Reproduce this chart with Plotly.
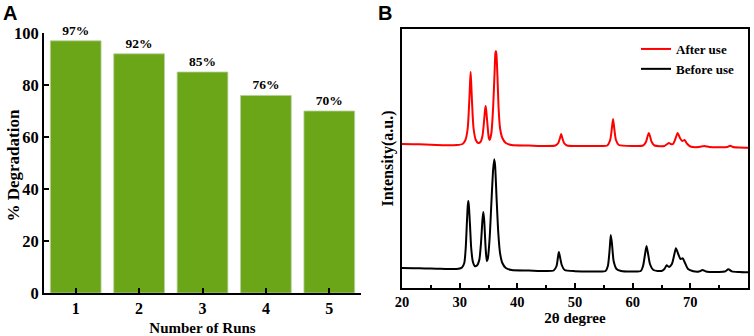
import plotly.graph_objects as go

# ---------------- Panel A data ----------------
runs = [1, 2, 3, 4, 5]
degradation = [97, 92, 85, 76, 70]

# ---------------- Panel B data ----------------
after_x = [20.0, 22, 24, 26, 28, 29.5, 30.5, 31.0, 31.4, 31.65, 31.8, 31.9, 32.0, 32.15, 32.4, 32.8,
           33.2, 33.6, 33.95, 34.2, 34.4, 34.5, 34.6, 34.8, 35.05, 35.2, 35.5, 35.8, 36.05, 36.2, 36.3,
           36.4, 36.55, 36.75, 37.0, 37.4, 38.0, 39, 42, 45, 46.6, 47.1, 47.4, 47.6, 47.8, 48.1, 48.6,
           51, 54, 55.6, 56.1, 56.4, 56.6, 56.8, 57.1, 57.6, 60, 61.8, 62.3, 62.6, 62.8, 63.0, 63.3,
           63.8, 65.5, 66.0, 66.3, 66.6, 67.0, 67.4, 67.8, 68.2, 68.6, 69.0, 69.4, 70.0, 71.5, 72.4,
           73.3, 75, 76.4, 76.9, 77.4, 78.5, 80]
after_y = [144, 143.8, 143.5, 143, 142.8, 143, 144, 148, 160, 185, 205, 216, 205, 185, 160, 148,
           145, 146, 152, 165, 178, 182, 178, 165, 150, 148, 155, 180, 215, 235, 237,
           232, 212, 180, 160, 150, 145, 143, 142.5, 142, 142.5, 145, 150, 154, 150, 145, 142.5,
           142, 142, 142.5, 148, 160, 169, 160, 148, 143, 142, 142.5, 146, 152, 155, 152, 146,
           142.5, 142, 144, 145, 144, 144, 149, 155, 150, 147, 148, 144.5, 141.5, 141, 142,
           141, 140.8, 141, 142.3, 141, 140.5, 140.3]

before_x = [20, 22, 24, 26, 28, 29.8, 30.4, 30.8, 31.05, 31.25, 31.4, 31.5, 31.6, 31.8, 32.0, 32.3,
            32.6, 33.0, 33.4, 33.7, 33.95, 34.1, 34.25, 34.5, 34.7, 34.9, 35.2, 35.5, 35.8, 36.0,
            36.15, 36.4, 36.7, 37.0, 37.4, 38.0, 39, 42, 45, 46.3, 46.8, 47.05, 47.2, 47.4, 47.7,
            48.2, 50, 54, 55.3, 55.7, 56.0, 56.2, 56.4, 56.7, 57.2, 58, 60, 61.4, 61.8, 62.15, 62.4,
            62.65, 63.0, 63.6, 65.0, 65.5, 65.9, 66.3, 66.8, 67.2, 67.5, 67.9, 68.3, 68.7, 69.0,
            69.6, 70.5, 71.5, 72.1, 72.7, 75, 76.0, 76.6, 77.2, 78.5, 80]
before_y = [20, 19.8, 19.5, 19.3, 19, 19.2, 20.5, 25, 40, 65, 82, 87, 82, 62, 40, 26,
            22, 22.5, 28, 45, 68, 76, 68, 40, 27, 30, 50, 85, 118, 128.7,
            122, 90, 55, 35, 25, 20, 18, 17.5, 17, 17.5, 22, 31, 36, 31, 23,
            18, 16.8, 16.5, 17, 22, 38, 53, 45, 27, 19, 17, 16.5, 17, 22, 34, 42,
            35, 24, 18, 17, 19, 22.7, 21, 24, 33, 39.7, 34, 29, 29.7, 26,
            19, 16.8, 16.5, 18, 16.5, 16, 16.5, 18.7, 16.6, 16, 15.7]

xrd_ticks = [20, 30, 40, 50, 60, 70, 80]

W, H = 754, 336
SERIF = "Liberation Serif"
SANS = "Liberation Sans"

def px(x):
    return x / W

def py(y):
    return 1 - y / H

fig = go.Figure()

fig.add_trace(go.Bar(
    x=runs, y=degradation, width=0.8,
    marker=dict(color="#6BA619", line=dict(color="#b9cfa0", width=0.8)),
    texttemplate="%{y}%", textposition="outside", cliponaxis=False,
    textfont=dict(family=SERIF, size=13.5, color="black", weight="bold"),
    showlegend=False, xaxis="x", yaxis="y",
))

fig.add_trace(go.Scatter(
    x=after_x, y=after_y, mode="lines", name="After use",
    line=dict(color="#ff0000", width=2, shape="spline", smoothing=0.6),
    xaxis="x2", yaxis="y2",
))
fig.add_trace(go.Scatter(
    x=before_x, y=before_y, mode="lines", name="Before use",
    line=dict(color="#000000", width=2, shape="spline", smoothing=0.6),
    xaxis="x2", yaxis="y2",
))

def f(size):
    return dict(family=SERIF, size=size, color="black", weight="bold")

fig.update_layout(
    width=W, height=H,
    margin=dict(l=0, r=0, t=0, b=0, autoexpand=False),
    paper_bgcolor="white", plot_bgcolor="white",
    font=dict(family=SERIF, color="black"),
    xaxis=dict(
        domain=[px(44), px(361)], range=[0.5, 5.5], tickvals=runs, automargin=False,
        showline=True, linecolor="black", linewidth=2, showgrid=False, zeroline=False,
        ticks="inside", ticklen=5, tickwidth=2, tickcolor="black",
        tickfont=f(16),
        title=dict(text="Number of Runs", font=f(15), standoff=10),
    ),
    yaxis=dict(
        domain=[py(293), py(33)], range=[0, 100], tickvals=[0, 20, 40, 60, 80, 100], automargin=False,
        showline=True, linecolor="black", linewidth=2, showgrid=False, zeroline=False,
        ticks="inside", ticklen=5, tickwidth=2, tickcolor="black",
        tickfont=f(16.5),
    ),
    xaxis2=dict(
        domain=[px(402), px(748)], range=[20, 80], tickvals=xrd_ticks, anchor="y2", automargin=False,
        showline=True, mirror=True, linecolor="black", linewidth=2, showgrid=False, zeroline=False,
        ticks="inside", ticklen=5, tickwidth=2, tickcolor="black",
        minor=dict(ticks="inside", ticklen=3, tickwidth=2, tickcolor="black", dtick=5, showgrid=False),
        tickfont=f(14.5),
        title=dict(text="2θ degree", font=f(15), standoff=2),
    ),
    yaxis2=dict(
        domain=[py(288), py(29)], range=[0, 259], anchor="x2", automargin=False,
        showline=True, mirror=True, linecolor="black", linewidth=2, showgrid=False, zeroline=False,
        ticks="", showticklabels=False,
        title=dict(text="Intensity(a.u.)", font=f(16), standoff=2),
    ),
    legend=dict(
        x=px(636), y=py(34), xanchor="left", yanchor="top",
        font=f(13),
        bgcolor="rgba(0,0,0,0)", tracegroupgap=0, itemwidth=30,
    ),
    annotations=[
        dict(text="% Degradation", x=px(1), y=py(166), xref="paper", yref="paper",
             xanchor="left", yanchor="middle", textangle=-90, showarrow=False,
             font=f(17)),
        dict(text="<b>A</b>", x=px(1), y=py(0), xref="paper", yref="paper",
             xanchor="left", yanchor="top", showarrow=False,
             font=dict(family=SANS, size=20, color="black")),
        dict(text="<b>B</b>", x=px(376), y=py(0), xref="paper", yref="paper",
             xanchor="left", yanchor="top", showarrow=False,
             font=dict(family=SANS, size=20, color="black")),
    ],
)

fig.write_html("out.html", config={"displayModeBar": False},
               post_script="document.body.style.margin='0px';")
